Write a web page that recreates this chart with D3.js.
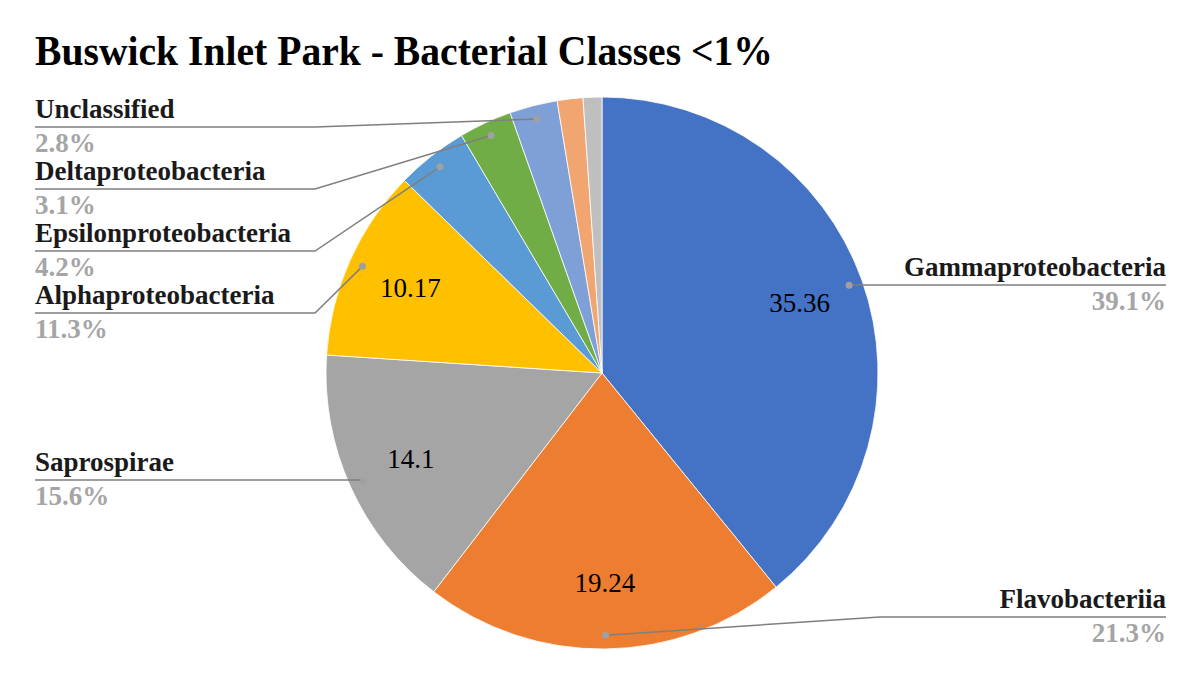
<!DOCTYPE html>
<html>
<head>
<meta charset="utf-8">
<script src="https://cdn.jsdelivr.net/npm/d3@7"></script>
<style>
  body { margin: 0; background: #fff; }
</style>
</head>
<body>
<script>
// data
var names = ['Gammaproteobacteria', 'Flavobacteriia', 'Saprospirae', 'Alphaproteobacteria',
             'Epsilonproteobacteria', 'Deltaproteobacteria', 'Unclassified', 'Other1', 'Other2']
var values = [35.36, 19.24, 14.1, 10.17, 3.8, 2.8, 2.53, 1.36, 0.99]
var colors = ['#4472C4', '#ED7D31', '#A5A5A5', '#FFC000', '#5B9BD5', '#70AD47', '#7F9FD7', '#F1A570', '#BFBFBF']
// which slices show the value inside
var showValue = [true, true, true, true, false, false, false, false, false]
// callout labels: side and the y of the underline
var labelSide = ['right', 'right', 'left', 'left', 'left', 'left', 'left', null, null]
var labelLineY = [285, 617, 480, 313, 251, 189, 127, null, null]

var width = 1204, height = 682
var cx = 602, cy = 373, r = 276
var serif = '"Liberation Serif", "Times New Roman", Times, "DejaVu Serif", serif'

var svg = d3.select('body').append('svg')
    .attr('width', width)
    .attr('height', height)
    .attr('font-family', serif)

svg.append('text')
    .attr('x', 35)
    .attr('y', 65)
    .attr('textLength', 738)
    .attr('lengthAdjust', 'spacingAndGlyphs')
    .attr('font-family', serif)
    .attr('font-size', 42)
    .attr('font-weight', 'bold')
    .attr('fill', '#000')
    .text('Buswick Inlet Park - Bacterial Classes <1%')

var total = d3.sum(values)
var data = values.map(function (v, i) { return {name: names[i], value: v, i: i} })

var pie = d3.pie().sort(null).value(function (d) { return d.value })
var arcs = pie(data)
var arc = d3.arc().innerRadius(0).outerRadius(r)
var dotArc = d3.arc().innerRadius(r * 0.95).outerRadius(r * 0.95)
var valArc = d3.arc().innerRadius(r * 0.76).outerRadius(r * 0.76)

var g = svg.append('g').attr('transform', 'translate(' + cx + ',' + cy + ')')

g.selectAll('path.slice')
    .data(arcs)
    .enter()
    .append('path')
    .attr('class', 'slice')
    .attr('d', arc)
    .attr('fill', function (d) { return colors[d.data.i] })
    .attr('stroke', '#fff')
    .attr('stroke-width', 0.8)

g.selectAll('text.val')
    .data(arcs.filter(function (d) { return showValue[d.data.i] }))
    .enter()
    .append('text')
    .attr('class', 'val')
    .attr('transform', function (d) {
        var c = valArc.centroid(d)
        return 'translate(' + c[0] + ',' + c[1] + ')'
    })
    .attr('text-anchor', 'middle')
    .attr('dy', '0.33em')
    .attr('font-family', serif)
    .attr('font-size', 27)
    .attr('fill', '#000')
    .text(function (d) { return d.data.value })

// callouts
var callouts = arcs.filter(function (d) { return labelSide[d.data.i] })
var pct = d3.format('.1%')

callouts.forEach(function (d) {
    var i = d.data.i
    var p = dotArc.centroid(d)
    var px = cx + p[0], py = cy + p[1]
    var ly = labelLineY[i]
    var pts
    if (labelSide[i] === 'left') {
        var elbow = Math.abs(py - ly) < 3 ? px : 315
        pts = [[35, ly], [elbow, ly], [px, py]]
    } else {
        var elbow2 = Math.abs(py - ly) < 3 ? px : 880
        pts = [[1166, ly], [elbow2, ly], [px, py]]
    }
    svg.append('path')
        .attr('d', d3.line()(pts))
        .attr('fill', 'none')
        .attr('stroke', '#7F7F7F')
        .attr('stroke-width', 1.5)
    svg.append('circle')
        .attr('cx', px)
        .attr('cy', py)
        .attr('r', 3.5)
        .attr('fill', '#A0A0A0')

    var tx = labelSide[i] === 'left' ? 35 : 1166
    var anchor = labelSide[i] === 'left' ? 'start' : 'end'
    svg.append('text')
        .attr('x', tx)
        .attr('y', ly - 9)
        .attr('text-anchor', anchor)
        .attr('font-family', serif)
        .attr('font-size', 27)
        .attr('font-weight', 'bold')
        .attr('fill', '#1a1a1a')
        .text(d.data.name)
    svg.append('text')
        .attr('x', tx)
        .attr('y', ly + 25)
        .attr('text-anchor', anchor)
        .attr('font-family', serif)
        .attr('font-size', 27)
        .attr('font-weight', 'bold')
        .attr('fill', '#A5A5A5')
        .text(pct(d.data.value / total))
})
</script>
</body>
</html>
